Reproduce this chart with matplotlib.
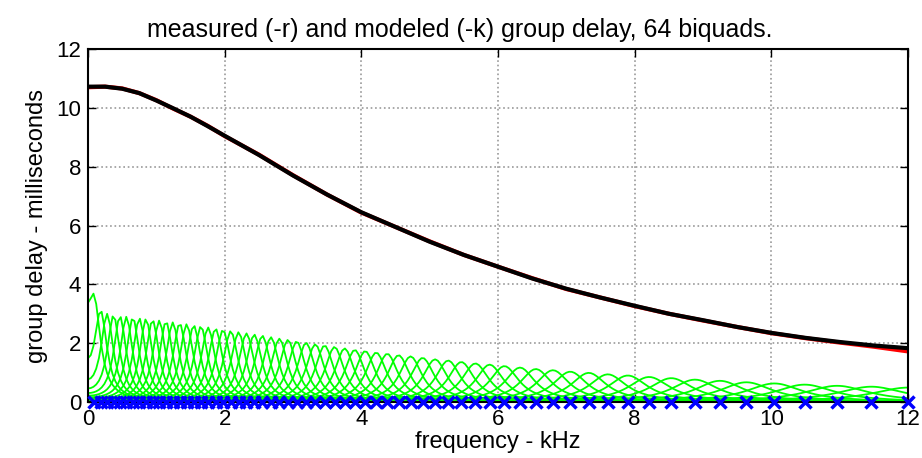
import numpy as np
import matplotlib.pyplot as plt

plt.rcParams['font.family'] = ['Liberation Sans', 'DejaVu Sans']

# measured (red) and modeled (black) group delay
freq_khz = [0.0, 0.25, 0.5, 0.75, 1.0, 1.25, 1.5, 1.75, 2.0, 2.5, 3.0, 3.5, 4.0,
            4.5, 5.0, 5.5, 6.0, 6.5, 7.0, 7.5, 8.0, 8.5, 9.0, 9.5, 10.0, 10.5,
            11.0, 11.5, 12.0]
modeled_ms = [10.72, 10.72, 10.65, 10.5, 10.25, 9.98, 9.7, 9.38, 9.05, 8.4, 7.7,
              7.05, 6.45, 5.95, 5.45, 5.0, 4.6, 4.2, 3.85, 3.55, 3.27, 3.0, 2.78,
              2.55, 2.35, 2.18, 2.04, 1.92, 1.83]
measured_ms = [10.70, 10.72, 10.66, 10.5, 10.26, 9.97, 9.7, 9.39, 9.04, 8.41, 7.71,
               7.05, 6.44, 5.95, 5.46, 5.0, 4.6, 4.21, 3.84, 3.55, 3.26, 3.0, 2.77,
               2.55, 2.34, 2.17, 2.02, 1.88, 1.72]

# biquad centre frequencies (blue x) and peak group delay of each section
biquad_khz = [0.093, 0.187, 0.280, 0.374, 0.468, 0.562, 0.657, 0.752, 0.849, 0.945,
              1.043, 1.142, 1.241, 1.342, 1.444, 1.548, 1.653, 1.758, 1.867, 1.976,
              2.089, 2.204, 2.319, 2.433, 2.552, 2.677, 2.801, 2.926, 3.055, 3.191,
              3.326, 3.462, 3.608, 3.756, 3.904, 4.057, 4.218, 4.380, 4.545, 4.721,
              4.897, 5.079, 5.271, 5.463, 5.669, 5.878, 6.094, 6.322, 6.554, 6.803,
              7.057, 7.328, 7.607, 7.901, 8.211, 8.535, 8.882, 9.246, 9.634, 10.044,
              10.487, 10.962, 11.463, 12.0]
biquad_peak_ms = [2.89, 2.89, 2.89, 2.89, 2.88, 2.87, 2.85, 2.83, 2.81, 2.78,
                  2.76, 2.73, 2.70, 2.67, 2.64, 2.60, 2.57, 2.53, 2.49, 2.45,
                  2.41, 2.37, 2.33, 2.29, 2.25, 2.20, 2.15, 2.11, 2.06, 2.01,
                  1.96, 1.92, 1.87, 1.82, 1.77, 1.73, 1.68, 1.64, 1.59, 1.55,
                  1.50, 1.45, 1.41, 1.36, 1.31, 1.27, 1.22, 1.17, 1.12, 1.08,
                  1.03, 0.99, 0.94, 0.90, 0.85, 0.81, 0.76, 0.72, 0.67, 0.63,
                  0.59, 0.55, 0.52, 0.49]

fig = plt.figure(figsize=(9.22, 4.58), dpi=100)
ax = fig.add_axes([88 / 922, 1 - 402 / 458, 820 / 922, 353 / 458])

# group delay of each allpass biquad (pole pair at +/- fc), coarse grid
f = np.linspace(0, 12, 301)
for fc, pk in zip(biquad_khz, biquad_peak_ms):
    g = 1.0 / (np.pi * pk)
    gd = pk * g**2 / (g**2 + (f - fc)**2) + pk * g**2 / (g**2 + (f + fc)**2)
    ax.plot(f, gd, color=(0, 1, 0), lw=1.3)

ax.plot(freq_khz, measured_ms, color='red', lw=3)
ax.plot(freq_khz, modeled_ms, color='black', lw=3)
ax.plot(biquad_khz, np.zeros(len(biquad_khz)), 'x', color=(0, 0, 1),
        ms=9, mew=2.5, clip_on=False, zorder=5)

ax.set_xlim(0, 12)
ax.set_ylim(0, 12)
ax.set_xticks(range(0, 13, 2))
ax.set_yticks(range(0, 13, 2))
ax.grid(True, color='#999999', linestyle=':', lw=1.2)
ax.tick_params(direction='in', length=6, width=1, top=True, right=True,
               labelsize=16, pad=5)
for s in ax.spines.values():
    s.set_linewidth(1.5)

ax.set_xlabel('frequency - kHz', fontsize=17, labelpad=1)
ax.set_ylabel('group delay - milliseconds', fontsize=17, labelpad=6)
fig.text(460 / 922, 1 - 30 / 458, 'measured (-r) and modeled (-k) group delay, 64 biquads.',
         ha='center', va='center', fontsize=18)

fig.savefig('out.png', dpi=100)
